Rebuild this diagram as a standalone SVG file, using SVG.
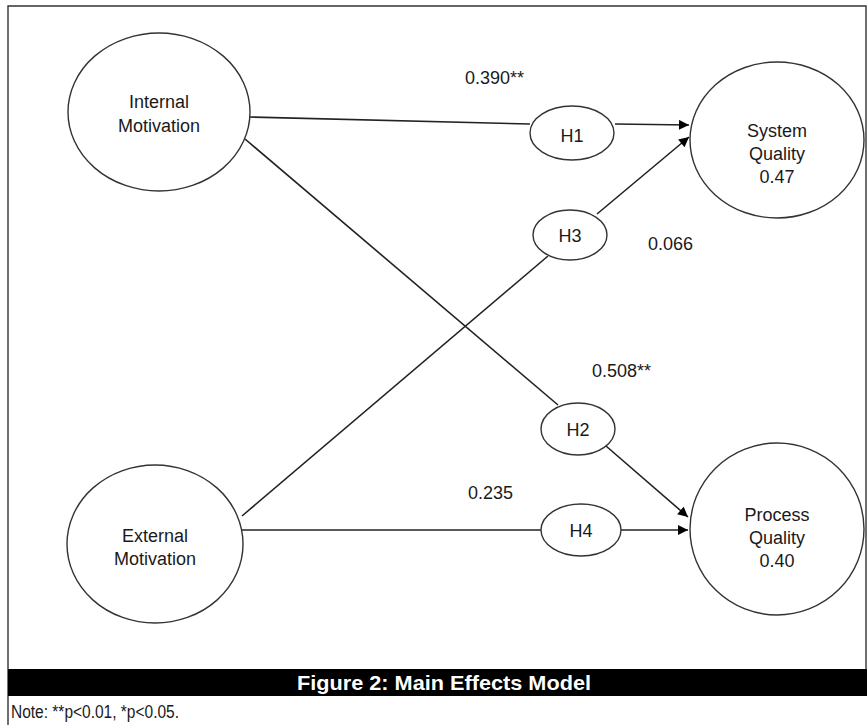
<svg xmlns="http://www.w3.org/2000/svg" width="867" height="725" viewBox="0 0 867 725">
<style>
  .n{fill:#fff;stroke:#333;stroke-width:1.4}
  .t{font-family:"Liberation Sans",Arial,sans-serif;font-size:18px;fill:#1a1a1a;text-anchor:middle}
  .l{font-family:"Liberation Sans",Arial,sans-serif;font-size:18px;fill:#1a1a1a}
  .c{stroke:#222;stroke-width:1.6;fill:none}
  .a{stroke:#222;stroke-width:1.6;fill:none;marker-end:url(#ar)}
</style>
<defs>
  <marker id="ar" viewBox="0 0 10 10" refX="10" refY="5" markerWidth="11" markerHeight="10" markerUnits="userSpaceOnUse" orient="auto">
    <path d="M0,0 L10,5 L0,10 z" fill="#000"/>
  </marker>
</defs>
<rect x="0" y="0" width="867" height="725" fill="#fff"/>
<g id="frame">
  <path d="M8,725 L8,6 L866,6 L866,669" fill="none" stroke="#333" stroke-width="1.4"/>
  <rect x="8" y="669" width="859" height="27" fill="#000"/>
  <text x="444" y="690" font-family="Liberation Sans,Arial,sans-serif" font-size="21" font-weight="bold" fill="#fff" text-anchor="middle" textLength="294" lengthAdjust="spacingAndGlyphs">Figure 2: Main Effects Model</text>
  <text x="11" y="718" class="l" textLength="168" lengthAdjust="spacingAndGlyphs">Note: **p&lt;0.01, *p&lt;0.05.</text>
</g>
<g id="connectors">
  <line class="c" x1="250" y1="117" x2="530" y2="124"/>
  <line class="a" x1="615" y1="124" x2="689" y2="125"/>
  <line class="c" x1="242" y1="516" x2="548" y2="256"/>
  <line class="a" x1="597" y1="214" x2="689" y2="137"/>
  <line class="c" x1="245" y1="139" x2="558" y2="405"/>
  <line class="a" x1="606" y1="446" x2="688" y2="517"/>
  <line class="c" x1="242" y1="530" x2="541" y2="530"/>
  <line class="a" x1="621" y1="530" x2="688" y2="530"/>
</g>
<g id="labels">
  <text class="l" x="465" y="84">0.390**</text>
  <text class="l" x="648" y="250">0.066</text>
  <text class="l" x="592" y="377">0.508**</text>
  <text class="l" x="468" y="499">0.235</text>
</g>
<g id="internal-motivation">
  <ellipse class="n" cx="159" cy="112" rx="91" ry="79"/>
  <text class="t" x="159" y="108">Internal</text>
  <text class="t" x="159" y="132">Motivation</text>
</g>
<g id="external-motivation">
  <ellipse class="n" cx="155" cy="544" rx="88" ry="79"/>
  <text class="t" x="155" y="542">External</text>
  <text class="t" x="155" y="565">Motivation</text>
</g>
<g id="system-quality">
  <ellipse class="n" cx="777" cy="140" rx="87" ry="78"/>
  <text class="t" x="777" y="137">System</text>
  <text class="t" x="777" y="160">Quality</text>
  <text class="t" x="777" y="183">0.47</text>
</g>
<g id="process-quality">
  <ellipse class="n" cx="777" cy="529" rx="87" ry="86"/>
  <text class="t" x="777" y="521">Process</text>
  <text class="t" x="777" y="544">Quality</text>
  <text class="t" x="777" y="567">0.40</text>
</g>
<g id="h1">
  <ellipse class="n" cx="572" cy="133" rx="42" ry="27"/>
  <text class="t" x="572" y="142">H1</text>
</g>
<g id="h3">
  <ellipse class="n" cx="570" cy="235" rx="37" ry="25"/>
  <text class="t" x="570" y="242">H3</text>
</g>
<g id="h2">
  <ellipse class="n" cx="578" cy="429" rx="37" ry="26"/>
  <text class="t" x="578" y="436">H2</text>
</g>
<g id="h4">
  <ellipse class="n" cx="581" cy="530" rx="40" ry="26"/>
  <text class="t" x="581" y="537">H4</text>
</g>
</svg>
